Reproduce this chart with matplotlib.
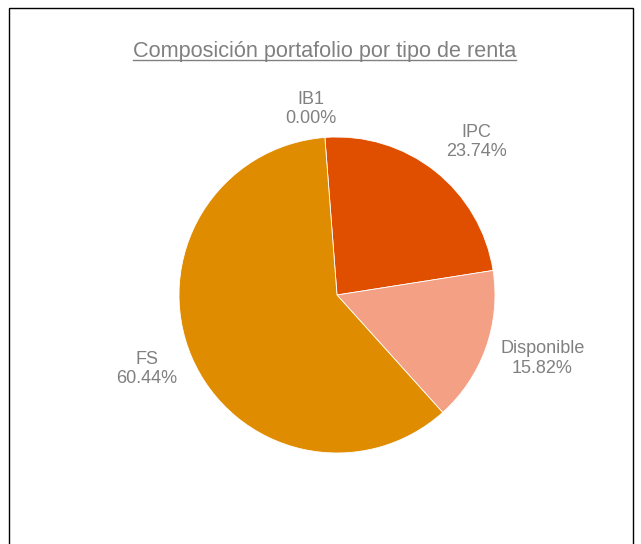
import numpy as np
import matplotlib.pyplot as plt
from matplotlib.patches import Rectangle
from matplotlib.lines import Line2D

# Datos del gráfico
categorias = ["IB1", "IPC", "Disponible", "FS"]
valores = [0.00, 23.74, 15.82, 60.44]
colores = ["#7F7F7F", "#E04E00", "#F4A084", "#E08C00"]
# ajuste de posición de etiquetas (distancia radial, desvío angular en grados)
dist_etiqueta = [1.19, 1.31, 1.36, 1.29]
desvio_etiqueta = [3.6, -4.0, 2.3, -1.9]

W, H = 641, 544
fig = plt.figure(figsize=(W / 100, H / 100), dpi=100)
plt.rcParams['font.family'] = ['Liberation Sans', 'DejaVu Sans']
gris = "#808080"

# Marco exterior
fig.patches.append(Rectangle((9 / W, -0.05), (633 - 9) / W, (H - 8) / H + 0.05,
                             transform=fig.transFigure, fill=False,
                             edgecolor="black", linewidth=1.0))

# Ejes de la torta
cx, cy, r = 337, 295, 158
ax = fig.add_axes([(cx - r) / W, (H - cy - r) / H, 2 * r / W, 2 * r / H])
start = 94.4
wedges, _ = ax.pie(valores, colors=colores, startangle=start, counterclock=False,
                   wedgeprops=dict(edgecolor="white", linewidth=0.6))
ax.set_xlim(-1, 1)
ax.set_ylim(-1, 1)
ax.set_aspect("equal")

# Etiquetas cerca del ángulo medio de cada porción
for w, cat, val, d, off in zip(wedges, categorias, valores, dist_etiqueta, desvio_etiqueta):
    theta = np.deg2rad((w.theta1 + w.theta2) / 2 + off)
    ax.text(d * np.cos(theta), d * np.sin(theta), f"{cat}\n{val:.2f}%",
            ha="center", va="center", fontsize=13, color=gris,
            linespacing=1.2, clip_on=False)

# Título subrayado
t = fig.text(324.5 / W, 1 - 51 / H, "Composición portafolio por tipo de renta",
             ha="center", va="center", fontsize=15.6, color=gris)
fig.canvas.draw()
bb = t.get_window_extent().transformed(fig.transFigure.inverted())
fig.lines.append(Line2D([bb.x0, bb.x1], [bb.y0 + 0.002, bb.y0 + 0.002],
                        transform=fig.transFigure, color=gris, linewidth=1.0))

plt.savefig("out.png", dpi=100)
